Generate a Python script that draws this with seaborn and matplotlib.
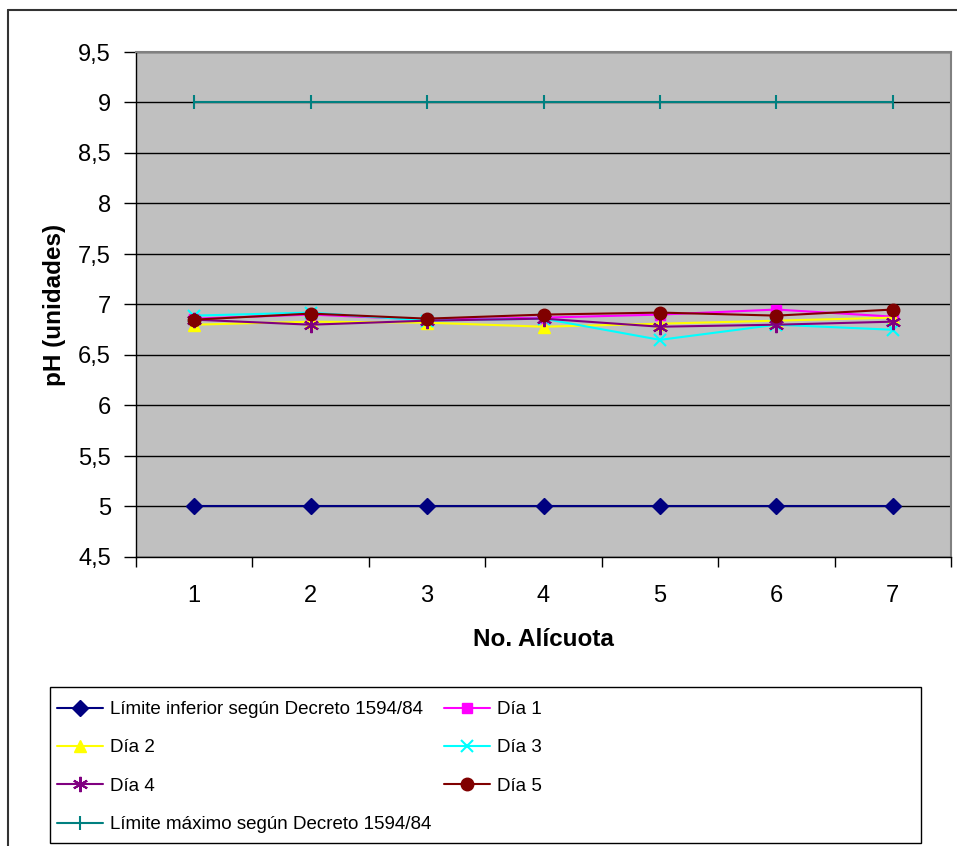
import matplotlib
matplotlib.use("Agg")
import matplotlib.pyplot as plt
from matplotlib.lines import Line2D
from matplotlib.patches import Rectangle
from matplotlib.ticker import FixedLocator, FuncFormatter
import seaborn as sns
import pandas as pd

alicuotas = [1, 2, 3, 4, 5, 6, 7]
lim_inf = [5, 5, 5, 5, 5, 5, 5]
dia1 = [6.86, 6.90, 6.85, 6.87, 6.90, 6.95, 6.88]
dia2 = [6.80, 6.83, 6.82, 6.78, 6.81, 6.84, 6.87]
dia3 = [6.89, 6.92, 6.84, 6.86, 6.65, 6.80, 6.75]
dia4 = [6.85, 6.80, 6.84, 6.86, 6.78, 6.80, 6.83]
dia5 = [6.85, 6.91, 6.86, 6.90, 6.92, 6.89, 6.95]
lim_max = [9, 9, 9, 9, 9, 9, 9]
y_ticks = [4.5, 5, 5.5, 6, 6.5, 7, 7.5, 8, 8.5, 9, 9.5]

series = [
    ("Límite inferior según Decreto 1594/84", lim_inf, "#000080", "D", 8),
    ("Día 1", dia1, "#FF00FF", "s", 7.5),
    ("Día 2", dia2, "#FFFF00", "^", 9),
    ("Día 3", dia3, "#00FFFF", "x", 9),
    ("Día 4", dia4, "#800080", (6, 2, 0), 11),
    ("Día 5", dia5, "#800000", "o", 9),
    ("Límite máximo según Decreto 1594/84", lim_max, "#008080", "|", 10),
]

sns.set_style("ticks")
plt.rcParams["font.family"] = ["Liberation Sans", "DejaVu Sans"]
plt.rcParams["text.color"] = "black"
plt.rcParams["axes.labelcolor"] = "black"
plt.rcParams["xtick.color"] = "black"
plt.rcParams["ytick.color"] = "black"

W, H = 957, 846
fig = plt.figure(figsize=(W / 100, H / 100), dpi=100)
ax = fig.add_axes([136 / W, 1 - 557 / H, (951 - 136) / W, (557 - 52) / H])
ax.set_facecolor("#C0C0C0")


def mew(mk):
    return 1.5 if (mk in ("x", "|") or isinstance(mk, tuple)) else 1


handles = {}
for name, vals, col, mk, ms in series:
    df = pd.DataFrame({"x": alicuotas, "y": vals})
    sns.lineplot(data=df, x="x", y="y", ax=ax, color=col, marker=mk,
                 markersize=ms, markeredgecolor=col, markerfacecolor=col,
                 markeredgewidth=mew(mk), linewidth=1.5, legend=False, zorder=3)
    handles[name] = Line2D([], [], color=col, marker=mk, markersize=ms,
                           markeredgecolor=col, markerfacecolor=col,
                           markeredgewidth=mew(mk), linewidth=1.5)

ax.set_xlim(0.5, 7.5)
ax.set_ylim(4.5, 9.5)
ax.yaxis.set_major_locator(FixedLocator(y_ticks))
ax.yaxis.set_major_formatter(FuncFormatter(lambda v, p: (f"{v:g}").replace(".", ",")))
ax.set_xticks(alicuotas)
ax.set_xticklabels([str(a) for a in alicuotas])
ax.xaxis.set_minor_locator(FixedLocator([0.5 + i for i in range(8)]))
ax.tick_params(axis="x", which="major", length=0, pad=20, labelsize=17, labelcolor="black")
ax.tick_params(axis="x", which="minor", length=7, width=1, color="black", direction="out")
ax.tick_params(axis="y", which="major", length=9, width=1, color="black", direction="out",
               pad=9, labelsize=17, labelcolor="black")
ax.grid(axis="y", color="black", linewidth=1, zorder=1)
ax.grid(axis="x", visible=False)
ax.set_axisbelow(True)
for s in ["top", "right"]:
    ax.spines[s].set_color("#808080")
    ax.spines[s].set_linewidth(1.5)
for s in ["left", "bottom"]:
    ax.spines[s].set_color("black")
    ax.spines[s].set_linewidth(1)

ax.set_xlabel("No. Alícuota", fontsize=17.5, fontweight="bold", color="black")
ax.set_ylabel("pH (unidades)", fontsize=17.5, fontweight="bold", color="black")
ax.xaxis.set_label_coords(0.5, (557 - 628) / 505)
ax.yaxis.set_label_coords((66 - 136) / 815, 0.5)

# outer chart border (top and left visible)
fig.add_artist(Line2D([8 / W, 1.0], [1 - 10 / H, 1 - 10 / H], transform=fig.transFigure,
                      color="#333333", linewidth=1.5))
fig.add_artist(Line2D([8 / W, 8 / W], [1 - 10 / H, 0.0], transform=fig.transFigure,
                      color="#333333", linewidth=1.5))

# legend box
fig.add_artist(Rectangle((50 / W, 1 - 843 / H), (921 - 50) / W, (843 - 687) / H,
                         transform=fig.transFigure, fill=False, edgecolor="black",
                         linewidth=1))
order = ["Límite inferior según Decreto 1594/84", "Día 2", "Día 4",
         "Límite máximo según Decreto 1594/84", "Día 1", "Día 3", "Día 5"]
leg = fig.legend([handles[n] for n in order], order, loc="upper left",
                 bbox_to_anchor=(57 / W, 1 - 701 / H), ncol=2, frameon=False,
                 fontsize=13.5, borderpad=0, handlelength=2.45, handletextpad=0.37,
                 labelspacing=1.13, columnspacing=0.7, borderaxespad=0)
for t in leg.get_texts():
    t.set_color("black")

fig.savefig("out.png", dpi=100, facecolor="white")
